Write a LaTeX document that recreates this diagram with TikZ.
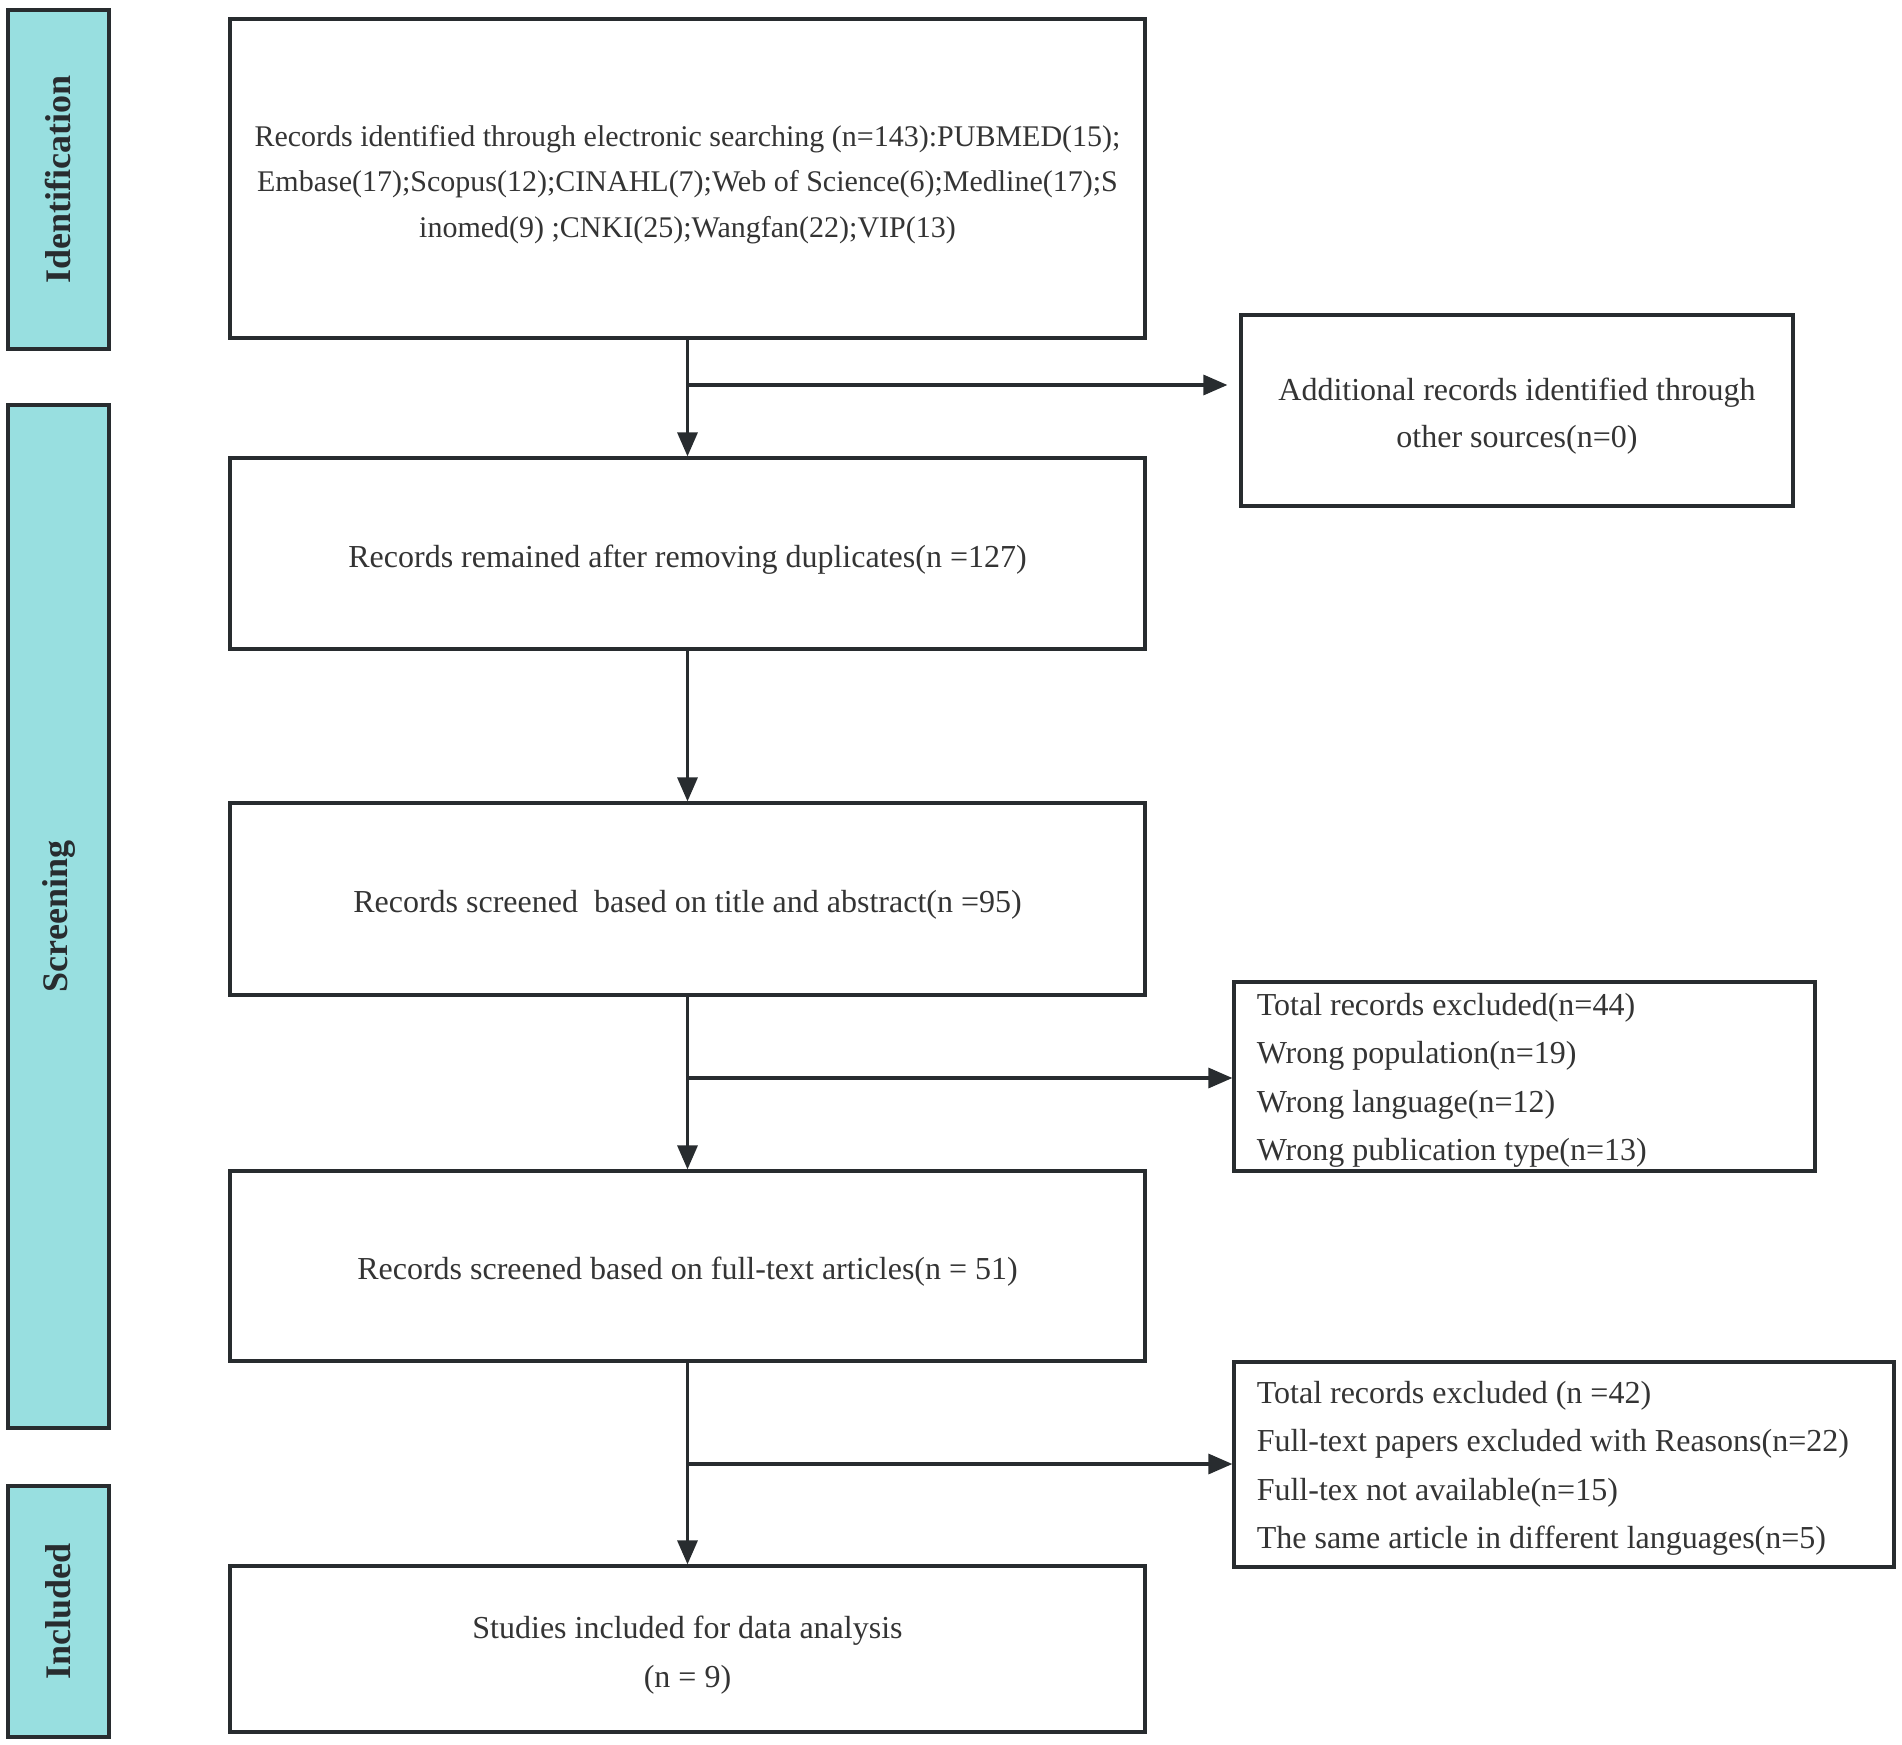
\documentclass[tikz,border=0pt]{standalone}
\usepackage{fontspec}
\setmainfont{Liberation Serif}
\usetikzlibrary{arrows.meta,calc}
\definecolor{linec}{RGB}{40,44,47}
\definecolor{textc}{RGB}{52,52,52}
\definecolor{phasec}{RGB}{152,223,224}
\begin{document}
\begin{tikzpicture}[x=0.5pt,y=-0.5pt,
  box/.style={draw=linec,line width=1.6pt,fill=white,inner sep=0pt},
  txt/.style={inner sep=0pt,text=textc,font=\fontsize{16}{24}\selectfont,align=center},
  phase/.style={draw=linec,line width=1.6pt,fill=phasec,inner sep=0pt,minimum width=50.5pt},
  phaselbl/.style={rotate=90,font=\fontsize{18}{20}\selectfont\bfseries,text=linec},
  extxt/.style={inner sep=0pt,text=textc,font=\fontsize{16}{24.2}\selectfont,align=left,anchor=west},
  conn/.style={draw=linec,line width=1.6pt},
  arr/.style={conn,-{Triangle[length=12pt,width=10pt]}}
]
\useasboundingbox (0,0) rectangle (1902,1745);
% phase bars
\node[phase,minimum height=169.5pt] (ident) at (58.5,179.5) {};
\node[phaselbl] (identl) at (ident.center) {Identification};
\node[phase,minimum height=511.5pt] (scr) at (58.5,916.5) {};
\node[phaselbl] (scrl) at (scr.center) {Screening};
\node[phase,minimum height=125.5pt] (inc) at (58.5,1611.5) {};
\node[phaselbl] (incl) at (inc.center) {Included};
% main boxes
\node[box,minimum width=457.5pt,minimum height=159.5pt] (b1) at (687.5,178.5) {};
\node[txt,font=\fontsize{15}{22.7}\selectfont] (b1t) at ([yshift=-3pt]b1.center)
  {Records identified through electronic searching (n=143):PUBMED(15);\\
   Embase(17);Scopus(12);CINAHL(7);Web of Science(6);Medline(17);S\\
   inomed(9) ;CNKI(25);Wangfan(22);VIP(13)};
\node[box,minimum width=276pt,minimum height=95.5pt] (add) at (1517,410.5) {};
\node[txt,font=\fontsize{16}{23.5}\selectfont] (addt) at ([yshift=-3pt]add.center)
  {Additional records identified through\\ other sources(n=0)};
\node[box,minimum width=457.5pt,minimum height=95.5pt] (b2) at (687.5,553.5) {};
\node[txt] (b2t) at ([yshift=-3pt]b2.center)
  {Records remained after removing duplicates(n =127)};
\node[box,minimum width=457.5pt,minimum height=96pt] (b3) at (687.5,899) {};
\node[txt] (b3t) at ([yshift=-3pt]b3.center)
  {Records screened\ \ based on title and abstract(n =95)};
\node[box,minimum width=290.5pt,minimum height=94.5pt] (ex1) at (1524.5,1076.5) {};
\node[extxt] (ex1t) at ([xshift=12pt,yshift=-2pt]ex1.west)
  {Total records excluded(n=44)\\
   Wrong population(n=19)\\
   Wrong language(n=12)\\
   Wrong publication type(n=13)};
\node[box,minimum width=457.5pt,minimum height=95pt] (b4) at (687.5,1266) {};
\node[txt] (b4t) at ([yshift=-3pt]b4.center)
  {Records screened based on full-text articles(n = 51)};
\node[box,minimum width=330pt,minimum height=102.5pt] (ex2) at (1564,1464.5) {};
\node[extxt] (ex2t) at ([xshift=12pt,yshift=-2pt]ex2.west)
  {Total records excluded (n =42)\\
   Full-text papers excluded with Reasons(n=22)\\
   Full-tex not available(n=15)\\
   The same article in different languages(n=5)};
\node[box,minimum width=457.5pt,minimum height=83pt] (b5) at (687.5,1649) {};
\node[txt,font=\fontsize{16}{24.5}\selectfont] (b5t) at ([yshift=-3pt]b5.center)
  {Studies included for data analysis\\ (n = 9)};
% junctions
\coordinate (j1) at (687.5,385);
\coordinate (j2) at (687.5,1078);
\coordinate (j3) at (687.5,1464);
% connectors
\draw[arr] (b1.south) -- (b2.north);
\draw[arr] (j1) -- ([xshift=-6pt]j1 -| add.west);
\draw[arr] (b2.south) -- (b3.north);
\draw[arr] (b3.south) -- (b4.north);
\draw[arr] (j2) -- (j2 -| ex1.west);
\draw[arr] (b4.south) -- (b5.north);
\draw[arr] (j3) -- (j3 -| ex2.west);
\end{tikzpicture}
\end{document}
